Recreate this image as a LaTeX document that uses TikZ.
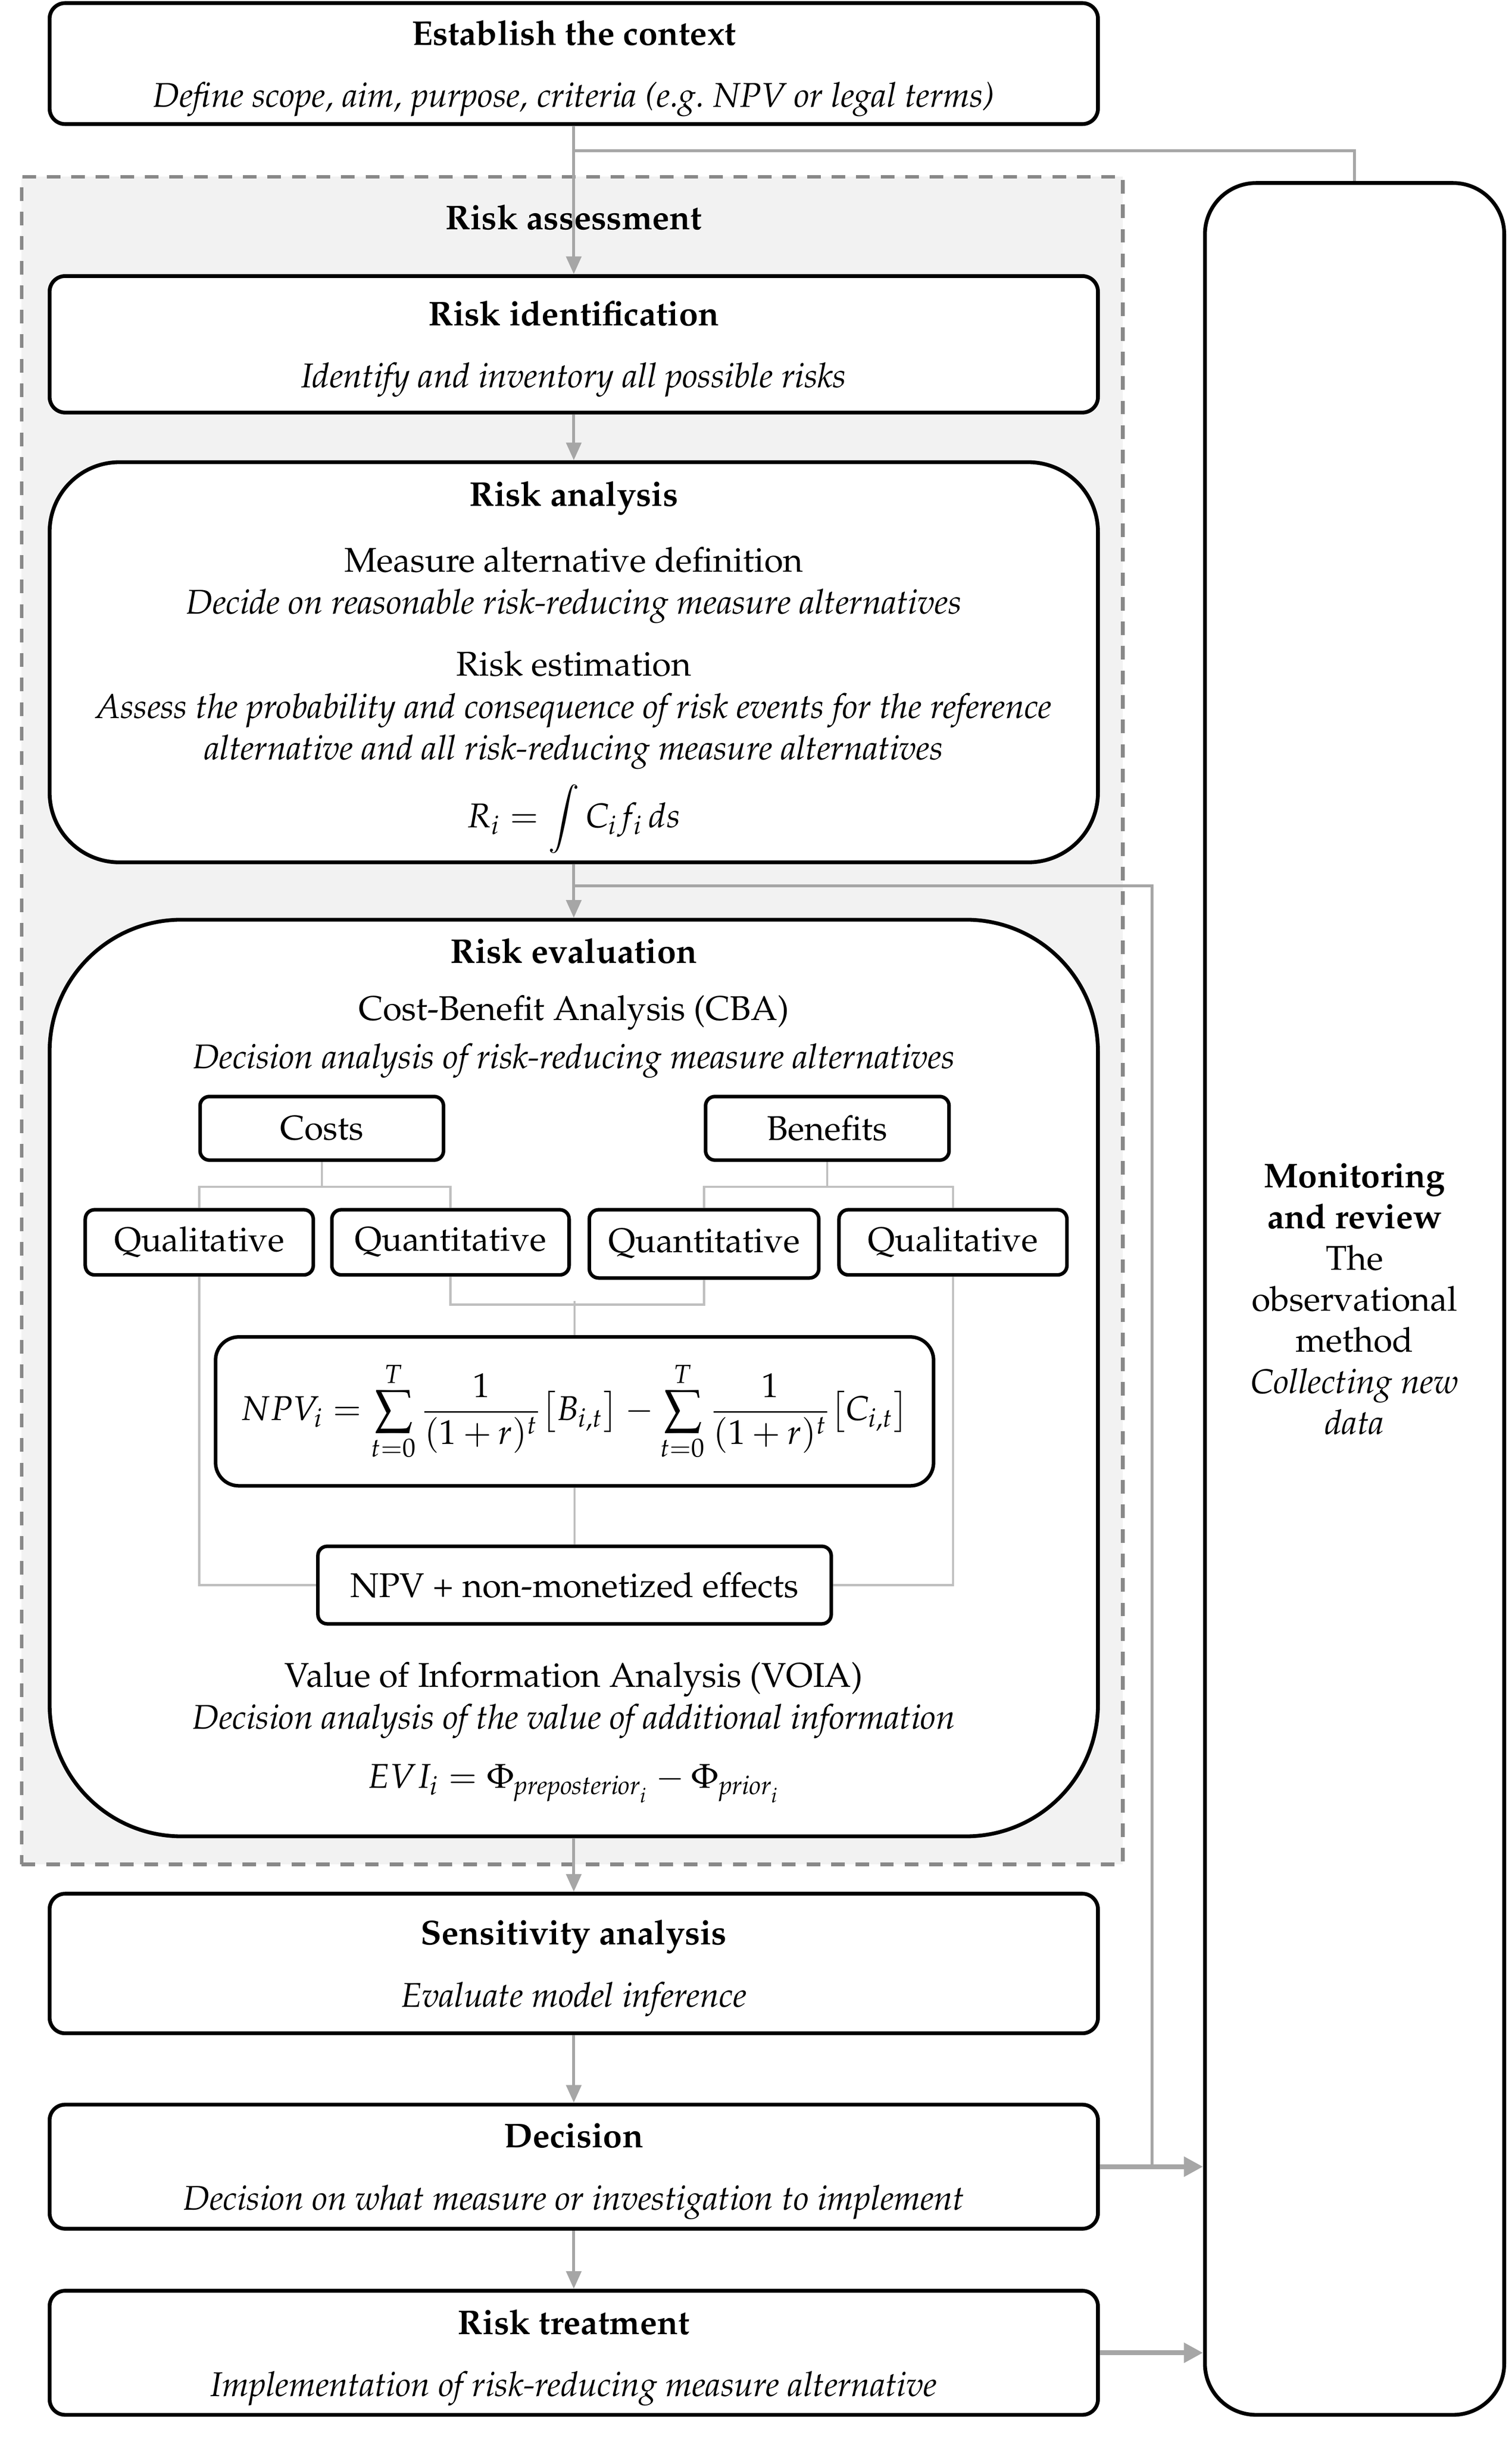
\documentclass[tikz,border=0pt]{standalone}
\usepackage[T1]{fontenc}
\usepackage{mathpazo}
\usetikzlibrary{arrows.meta}
\definecolor{linegray}{HTML}{A6A6A6}
\definecolor{treegray}{HTML}{BFBFBF}
\definecolor{dashgray}{HTML}{888888}
\definecolor{regiongray}{HTML}{F2F2F2}

\begin{document}
\begin{tikzpicture}[x=0.2mm,y=-0.2mm,font=\fontsize{12.6}{15.2}\selectfont]
  \tikzstyle{box}=[draw,line width=1.4pt,fill=white,rounded corners=2mm,align=center,minimum width=135.2mm,inner sep=0pt,text depth=0pt]
  \tikzstyle{small}=[draw,line width=1.3pt,fill=white,rounded corners=1.2mm,minimum height=8.4mm,inner sep=0pt]
  \tikzstyle{flow}=[draw=linegray,line width=1.1pt,-{Triangle[length=6.5pt,width=5.5pt]}]
  \tikzstyle{bigflow}=[draw=linegray,line width=1.8pt,-{Triangle[length=7pt,width=7pt]}]
  \tikzstyle{link}=[draw=linegray,line width=1.1pt]
  \tikzstyle{tree}=[draw=treegray,line width=0.8pt]
  \useasboundingbox (0,0) rectangle (975,1572.6);

  % risk assessment region
  \node[draw=dashgray,fill=regiongray,line width=1.4pt,dash pattern=on 5pt off 4pt,minimum width=142mm,minimum height=217.6mm,inner sep=0pt] (assess) at (369,658) {};
  \node (assess-t) at (370,140) {\textbf{Risk assessment}};

  \node[box,minimum height=15.6mm] (est) at (370,41) {\textbf{Establish the context}\\[7.6pt]\textit{Define scope, aim, purpose, criteria (e.g.\ NPV or legal terms)}};
  \node[box,minimum height=17.6mm] (ident) at (370,222) {\textbf{Risk identification}\\[7.6pt]\textit{Identify and inventory all possible risks}};

  % risk analysis
  \node[box,minimum height=51.6mm,rounded corners=9mm] (anal) at (370,427) {};
  \node (anal-t) at (370,321) {\textbf{Risk analysis}};
  \node (anal-1) at (370,361) {Measure alternative definition};
  \node (anal-2) at (370,391) {\textit{Decide on reasonable risk-reducing measure alternatives}};
  \node (anal-3) at (370,428) {Risk estimation};
  \node[align=center] (anal-4) at (370,471.5) {\textit{Assess the probability and consequence of risk events for the reference}\\\textit{alternative and all risk-reducing measure alternatives}};
  \node (anal-5) at (370,528) {$\displaystyle R_i=\int C_if_i\,ds$};

  % risk evaluation
  \node[box,minimum height=118.2mm,rounded corners=17mm] (eval) at (370,888.5) {};
  \node (eval-t) at (370,613) {\textbf{Risk evaluation}};
  \node (eval-1) at (370,653) {Cost-Benefit Analysis (CBA)};
  \node (eval-2) at (370,684) {\textit{Decision analysis of risk-reducing measure alternatives}};
  \node[small,minimum width=31.4mm,minimum height=8.2mm] (costs) at (207.5,727.5) {Costs};
  \node[small,minimum width=31.4mm,minimum height=8.2mm] (benef) at (533.5,727.5) {Benefits};
  \node[small,minimum width=29.4mm] (ql1) at (128.5,801) {Qualitative};
  \node[small,minimum width=30.6mm] (qn1) at (290.5,801) {Quantitative};
  \node[small,minimum width=29.6mm,minimum height=8.8mm] (qn2) at (454,802) {Quantitative};
  \node[small,minimum width=29.4mm] (ql2) at (614.5,801) {Qualitative};
  \node[small,minimum width=92.6mm,minimum height=19.2mm,rounded corners=3mm] (npv) at (370.5,910) {$\displaystyle NPV_i=\sum_{t=0}^{T}\frac{1}{(1+r)^t}\bigl[B_{i,t}\bigr]-\sum_{t=0}^{T}\frac{1}{(1+r)^t}\bigl[C_{i,t}\bigr]$};
  \node[small,minimum width=66.2mm,minimum height=10mm] (npvsum) at (370.5,1022) {NPV + non-monetized effects};
  \node (eval-3) at (370,1083) {Value of Information Analysis (VOIA)};
  \node (eval-4) at (370,1110) {\textit{Decision analysis of the value of additional information}};
  \node (eval-5) at (370,1150) {$EVI_i=\Phi_{\mathit{preposterior}_i}-\Phi_{\mathit{prior}_i}$};

  \draw[tree] (costs.south) -- ++(0,16) coordinate (cost-j);
  \draw[tree] (ql1.north) |- (cost-j) -| (qn1.north);
  \draw[tree] (benef.south) -- ++(0,16) coordinate (ben-j);
  \draw[tree] (qn2.north) |- (ben-j) -| (ql2.north);
  \draw[tree] (qn1.south) -- ++(0,18) -| (qn2.south);
  \draw[tree] (npv.north) -- ++(0,-22);
  \draw[tree] (npv) -- (npvsum);
  \draw[tree] (ql1.south) |- (npvsum.west);
  \draw[tree] (ql2.south) |- (npvsum.east);

  % after the assessment
  \node[box,minimum height=18mm] (sens) at (370,1266) {\textbf{Sensitivity analysis}\\[7.6pt]\textit{Evaluate model inference}};
  \node[box,minimum height=16mm] (dec) at (370,1397) {\textbf{Decision}\\[7.6pt]\textit{Decision on what measure or investigation to implement}};
  \node[box,minimum height=16mm] (treat) at (370,1517) {\textbf{Risk treatment}\\[7.6pt]\textit{Implementation of risk-reducing measure alternative}};
  \node[box,minimum width=38.6mm,minimum height=287.8mm,rounded corners=6.6mm,font=\fontsize{12.6}{15.1}\selectfont] (mon) at (873.5,837.5) {\textbf{Monitoring}\\\textbf{and review}\\The\\observational\\method\\\textit{Collecting new}\\\textit{data}};

  \draw[flow] (est) -- (ident);
  \draw[link] (est.south) ++(0,16) -| (mon.north);
  \draw[flow] (ident) -- (anal);
  \draw[flow] (anal) -- (eval);
  \coordinate (fb) at (743,1397);
  \draw[link] (anal.south) ++(0,14) -| (fb);
  \draw[flow] (eval) -- (sens);
  \draw[flow] (sens) -- (dec);
  \draw[flow] (dec) -- (treat);
  \draw[bigflow] (dec.east) -- (dec.east -| mon.west);
  \draw[bigflow] (treat.east) -- (treat.east -| mon.west);
\end{tikzpicture}
\end{document}
